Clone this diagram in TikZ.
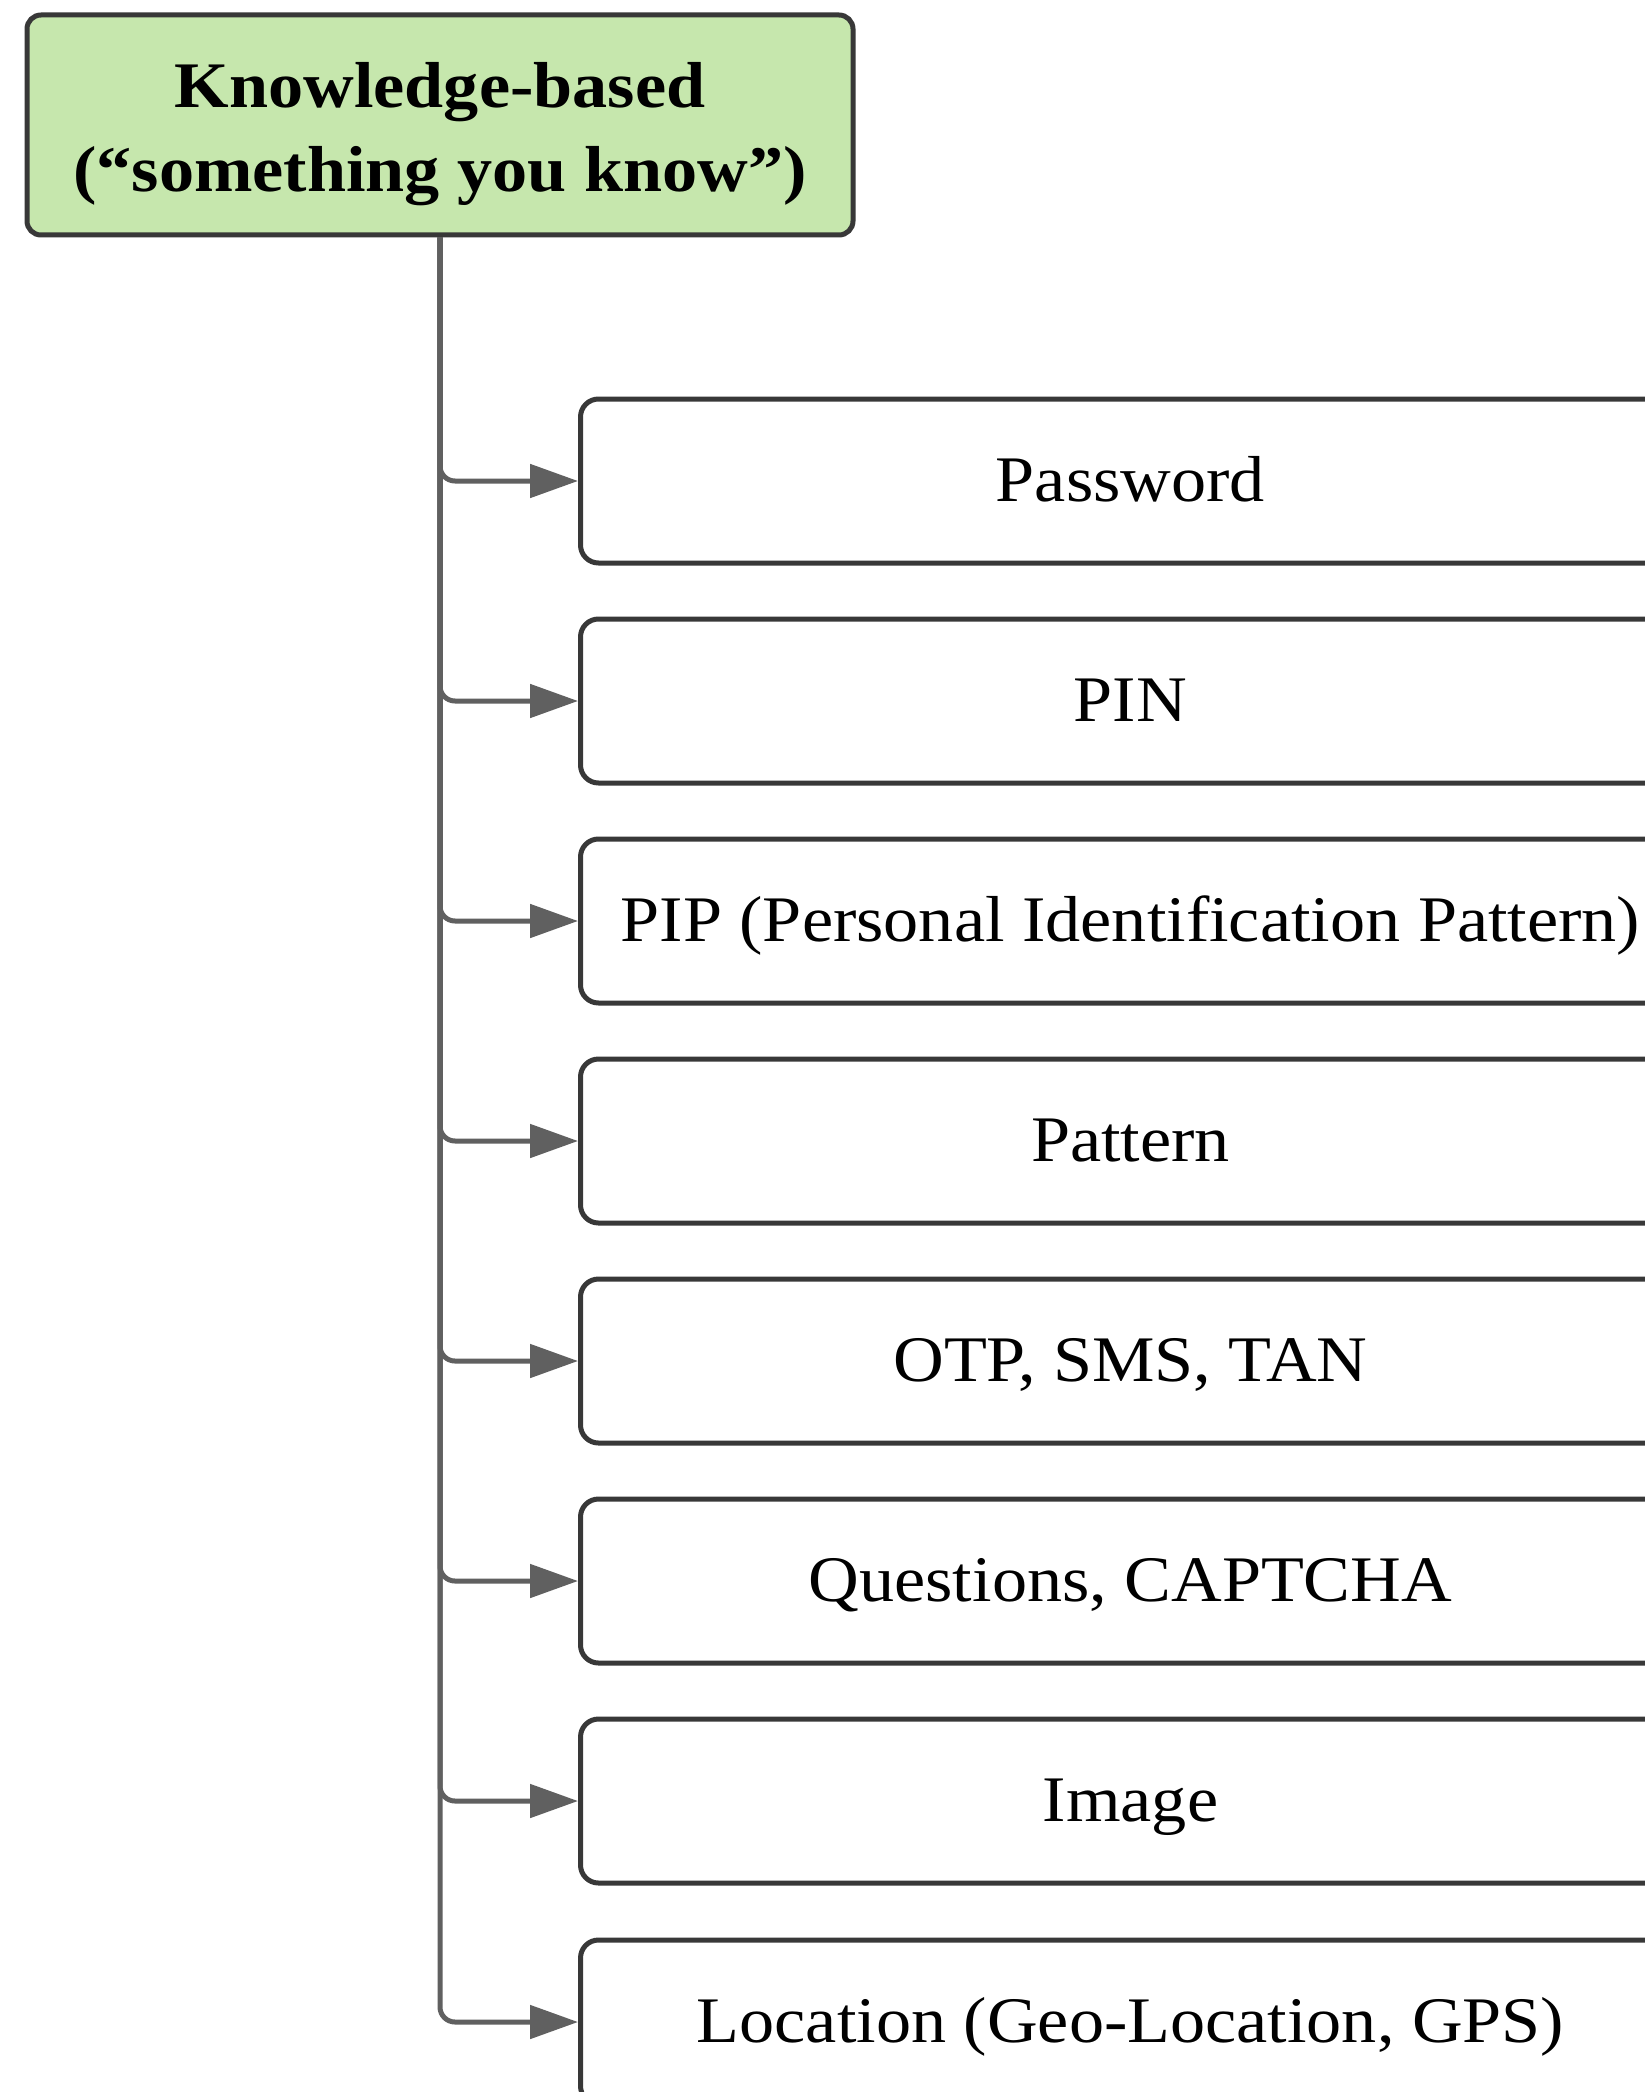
\documentclass[tikz,border=0pt]{standalone}
\usepackage{fontspec}
\setmainfont{Liberation Serif}[FakeStretch=1.08]
\usetikzlibrary{arrows.meta}

\definecolor{rootfill}{HTML}{C6E7AD}
\definecolor{boxline}{HTML}{383838}
\definecolor{wire}{HTML}{606060}

\tikzset{
  rootbox/.style={draw=boxline, fill=rootfill, line width=5pt,
    rounded corners=14pt, minimum width=826pt, minimum height=220pt,
    inner sep=0pt},
  roottitle/.style={inner sep=0pt, align=center, anchor=base,
    font=\fontsize{65}{84}\selectfont\bfseries},
  leafbox/.style={draw=boxline, fill=white, line width=5pt,
    rounded corners=18pt, minimum width=1100pt, minimum height=164pt,
    inner sep=0pt, anchor=west, text height=40pt, text depth=0pt,
    font=\fontsize{65}{78}\selectfont},
  feed/.style={draw=wire, line width=5pt, rounded corners=15pt,
    -{Triangle[length=48pt, width=33pt]}}
}

\begin{document}
\begin{tikzpicture}[x=1pt, y=-1pt]
  \useasboundingbox (0,0) rectangle (1644,2092);
  \fill[white] (0,0) rectangle (1644,2092);

  % category heading; the title's base anchor sits on its last line
  \node[rootbox] (root) at (440,125) {};
  \node[roottitle] (roottext) at (440,192) {Knowledge-based\\(“something you know”)};

  % authentication methods
  \node[leafbox] (pw)  at (578,481)  {Password};
  \node[leafbox] (pin) at (578,701)  {PIN};
  \node[leafbox] (pip) at (578,921)  {PIP (Personal Identification Pattern)};
  \node[leafbox] (pat) at (578,1141) {Pattern};
  \node[leafbox] (otp) at (578,1361) {OTP, SMS, TAN};
  \node[leafbox] (qst) at (578,1581) {Questions, CAPTCHA};
  \node[leafbox] (img) at (578,1801) {Image};
  \node[leafbox] (loc) at (578,2022) {Location (Geo-Location, GPS)};

  % branches from the heading to each method
  \foreach \m in {pw,pin,pip,pat,otp,qst,img,loc}
    \draw[feed] (root.south) |- (\m.west);
\end{tikzpicture}
\end{document}
